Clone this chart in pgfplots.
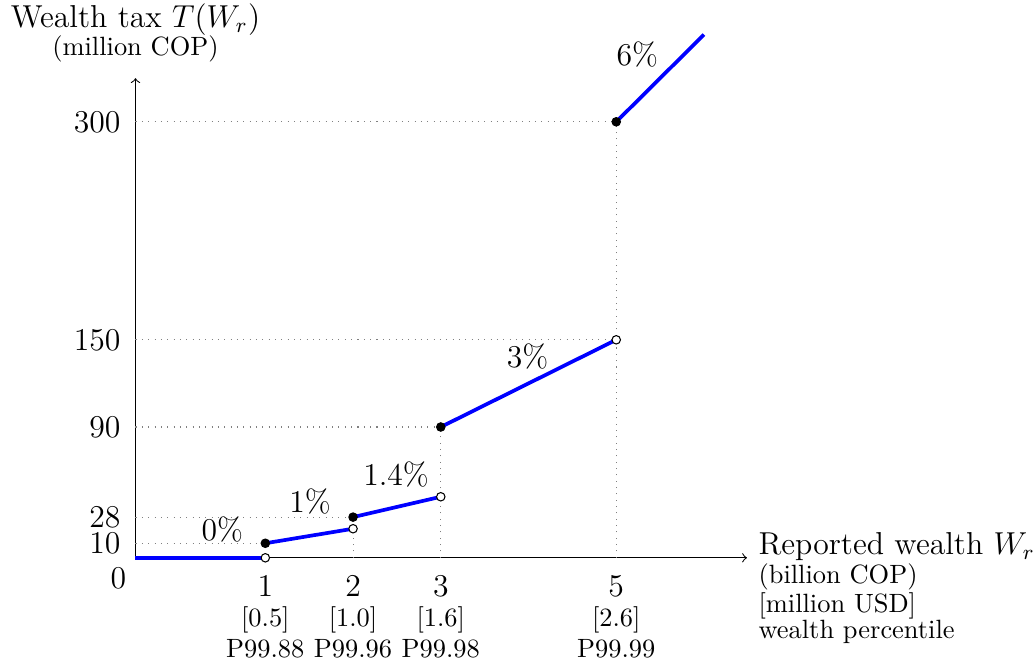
\documentclass[border=0pt]{standalone}
\usepackage{pgfplots}
\pgfplotsset{compat=1.18}
\begin{document}
\begin{tikzpicture}
\begin{axis}[
  x=33.2pt, y=0.550pt,
  xmin=-0.48, xmax=6.49, ymin=0, ymax=330,
  enlargelimits=false,
  axis lines=left,
  axis line style={line width=0.4pt, ->},
  clip=false,
  xtick={1,2,3,5},
  xticklabels={
    {{\large 1}\\{[0.5]}\\[0.4pt]P99.88},
    {{\large 2}\\{[1.0]}\\[0.4pt]P99.96},
    {{\large 3}\\{[1.6]}\\[0.4pt]P99.98},
    {{\large 5}\\{[2.6]}\\[0.4pt]P99.99}},
  xticklabel style={align=center, inner sep=0pt, yshift=-4.2pt, font=\fontsize{10}{11.4}\selectfont},
  ytick={10,28,90,150,300},
  yticklabel style={font=\large},
  tick style={draw=none},
  xlabel={{\large Reported wealth $W_r$}\\(billion COP)\\{[million USD]}\\wealth percentile},
  xlabel style={at={(axis description cs:1,0)}, anchor=north west, align=left, inner sep=0pt,
    xshift=4.2pt, yshift=9.6pt, font=\fontsize{10}{9.7}\selectfont},
  ylabel={{\large Wealth tax $T(W_r)$}\\(million COP)},
  ylabel style={rotate=-90, at={(axis description cs:0,1)}, anchor=south, align=center, inner sep=0pt,
    yshift=5.75pt, font=\fontsize{10}{10.65}\selectfont},
]
% dotted guide lines
\addplot[gray, dotted, line width=0.4pt] coordinates {(-0.48,10) (1,10)};
\addplot[gray, dotted, line width=0.4pt] coordinates {(-0.48,28) (2,28)};
\addplot[gray, dotted, line width=0.4pt] coordinates {(-0.48,90) (3,90)};
\addplot[gray, dotted, line width=0.4pt] coordinates {(-0.48,150) (5,150)};
\addplot[gray, dotted, line width=0.4pt] coordinates {(-0.48,300) (5,300)};
\addplot[gray, dotted, line width=0.4pt] coordinates {(2,0) (2,28)};
\addplot[gray, dotted, line width=0.4pt] coordinates {(3,0) (3,90)};
\addplot[gray, dotted, line width=0.4pt] coordinates {(5,0) (5,300)};
% tax schedule segments
\addplot[blue, line width=1.4pt] coordinates {(-0.48,0) (1,0)};
\addplot[blue, line width=1.4pt] coordinates {(1,10) (2,20)};
\addplot[blue, line width=1.4pt] coordinates {(2,28) (3,42)};
\addplot[blue, line width=1.4pt] coordinates {(3,90) (5,150)};
\addplot[blue, line width=1.4pt] coordinates {(5,300) (6,360)};
% closed (filled) and open endpoints
\addplot[only marks, mark=*, mark size=1.6pt, mark options={fill=black, draw=black}]
  coordinates {(1,10) (2,28) (3,90) (5,300)};
\addplot[only marks, mark=*, mark size=1.6pt, mark options={fill=white, draw=black, line width=0.4pt}]
  coordinates {(1,0) (2,20) (3,42) (5,150)};
% rate labels
\node[font=\large] at (axis cs:0.51,19.2) {0\%};
\node[font=\large] at (axis cs:1.51,39) {1\%};
\node[font=\large] at (axis cs:2.49,57.5) {1.4\%};
\node[font=\large] at (axis cs:3.99,138.4) {3\%};
\node[font=\large] at (axis cs:5.24,346) {6\%};
\node[font=\large, anchor=north east] at (axis cs:-0.48,0) {0};
\end{axis}
\path ([xshift=-4.1pt]current bounding box.west);
\path ([yshift=1.5pt]current bounding box.north);
\path ([yshift=-0.5pt]current bounding box.south);
\end{tikzpicture}
\end{document}
